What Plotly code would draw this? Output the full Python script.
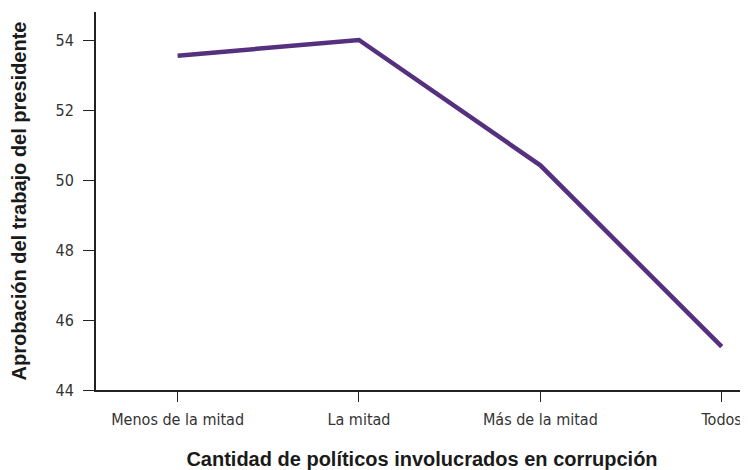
import plotly.graph_objects as go

categorias = ["Menos de la mitad", "La mitad", "Más de la mitad", "Todos"]
aprobacion = [53.55, 54.0, 50.42, 45.24]
y_ticks = [44, 46, 48, 50, 52, 54]

fig = go.Figure()
fig.add_trace(go.Scatter(
    x=list(range(len(categorias))), y=aprobacion,
    mode="lines", line=dict(color="#55307f", width=4.5),
    showlegend=False,
))

tick_font = dict(family="DejaVu Sans Condensed, sans-serif", size=16, color="#333333")
title_font = dict(family="Liberation Sans, Arial, sans-serif", size=20, color="#1a1a1a")

# the page body has an 8px margin, so the figure is 8px smaller than the window
fig.update_layout(
    width=740, height=462,
    margin=dict(l=88, r=0, t=4, b=80),
    paper_bgcolor="white", plot_bgcolor="white",
    xaxis=dict(
        range=[-0.45, 3.145], automargin=False,
        tickmode="array", tickvals=list(range(len(categorias))), ticktext=categorias,
        showgrid=False, zeroline=False,
        showline=True, linecolor="#222222", linewidth=2,
        ticks="outside", ticklen=10, tickwidth=1, tickcolor="#222222",
        tickfont=tick_font, ticklabelstandoff=4,
        title=dict(text="<b>Cantidad de políticos involucrados en corrupción</b>",
                   font=title_font, standoff=25),
    ),
    yaxis=dict(
        range=[44, 54.8], automargin=False,
        tickmode="array", tickvals=y_ticks,
        showgrid=False, zeroline=False,
        showline=True, linecolor="#222222", linewidth=2,
        ticks="outside", ticklen=11, tickwidth=1, tickcolor="#222222",
        tickfont=tick_font, ticklabelstandoff=6,
        title=dict(text="<b>Aprobación del trabajo del presidente</b>",
                   font=title_font, standoff=25),
    ),
)

fig.write_html("out.html")
